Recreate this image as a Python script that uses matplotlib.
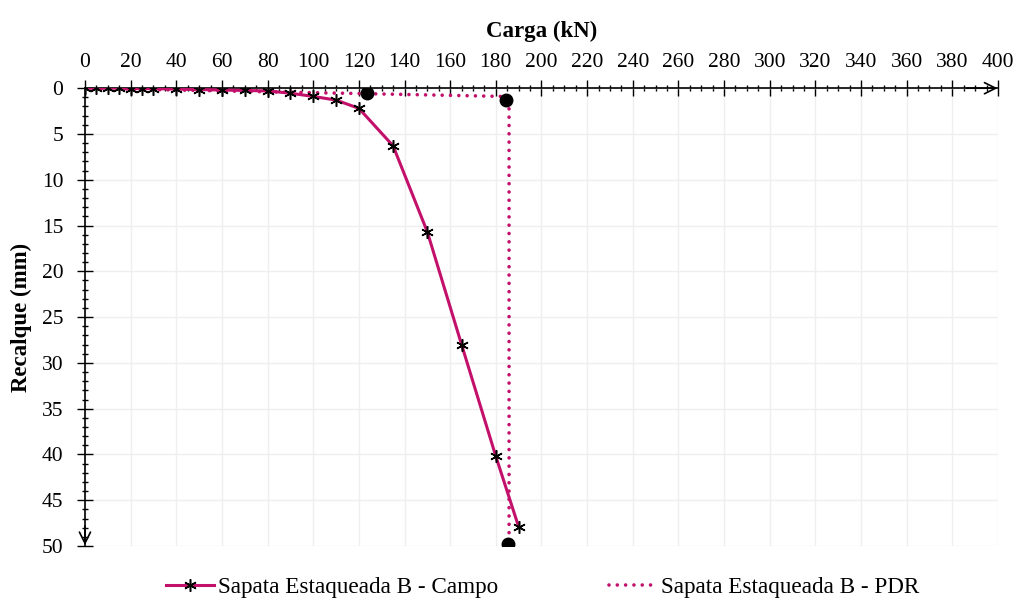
import numpy as np
import matplotlib.pyplot as plt
from matplotlib.ticker import MultipleLocator

plt.rcParams['font.family'] = ['Liberation Serif', 'DejaVu Serif']

# dados
carga_campo = [0, 5, 10, 15, 20, 25, 30, 40, 50, 60, 70, 80, 90, 100, 110, 120, 135, 150, 165, 180, 190]
recalque_campo = [0, 0, 0, 0, 0.05, 0.05, 0.05, 0.1, 0.15, 0.2, 0.25, 0.3, 0.55, 0.9, 1.3, 2.2,
                  6.3, 15.7, 28.0, 40.2, 47.9]

carga_pdr = [0, 60, 123.5, 183, 185.8, 185.8]
recalque_pdr = [0, 0.3, 0.6, 0.9, 2.0, 48.6]

carga_pts = [123.5, 184.4, 185.3]
recalque_pts = [0.55, 1.3, 49.8]

cor = '#C2106B'

fig = plt.figure(figsize=(10.2, 6.04), dpi=100)
ax = fig.add_axes([0.0833, 0.096, 0.8951, 0.758])

ax.plot(carga_campo, recalque_campo, color=cor, lw=2.2, marker=(6, 2, 0), ms=9,
        mec='black', mew=1.1, label='Sapata Estaqueada B - Campo', zorder=3)
ax.plot(carga_pdr, recalque_pdr, color=cor, lw=2.6, ls=(0, (0.001, 2.3)),
        dash_capstyle='round', label='Sapata Estaqueada B - PDR', zorder=2)
ax.plot(carga_pts, recalque_pts, 'o', color='black', ms=9, zorder=4)

ax.set_xlim(0, 400)
ax.set_ylim(50, 0)
ax.xaxis.tick_top()
ax.xaxis.set_label_position('top')
ax.xaxis.set_major_locator(MultipleLocator(20))
ax.xaxis.set_minor_locator(MultipleLocator(5))
ax.yaxis.set_major_locator(MultipleLocator(5))
ax.yaxis.set_minor_locator(MultipleLocator(1))
ax.tick_params(which='major', direction='inout', length=11, width=1, labelsize=15.5)
ax.tick_params(axis='x', which='major', pad=6)
ax.tick_params(axis='y', which='major', pad=10)
ax.tick_params(which='minor', direction='inout', length=5, width=1)
ax.grid(True, which='major', color='#efefef', lw=1)
ax.set_axisbelow(True)

for s in ['right', 'bottom']:
    ax.spines[s].set_visible(False)
ax.spines['top'].set_linewidth(1.2)
ax.spines['left'].set_linewidth(1.2)

ax.set_xlabel('Carga (kN)', fontsize=16.5, fontweight='bold', labelpad=12)
ax.set_ylabel('Recalque (mm)', fontsize=16.5, fontweight='bold', labelpad=7)

# setas nos eixos
ax.annotate('', xy=(401, 0), xytext=(385, 0),
            arrowprops=dict(arrowstyle='->', color='black', lw=1.2, mutation_scale=20),
            annotation_clip=False)
ax.annotate('', xy=(0, 50.2), xytext=(0, 47.5),
            arrowprops=dict(arrowstyle='->', color='black', lw=1.2, mutation_scale=20),
            annotation_clip=False)

fig.legend(loc='lower center', bbox_to_anchor=(0.532, -0.025), ncol=2, frameon=False,
           fontsize=16.7, columnspacing=4.8, handlelength=2.07, handletextpad=0.17)

fig.savefig('out.png', dpi=100)
